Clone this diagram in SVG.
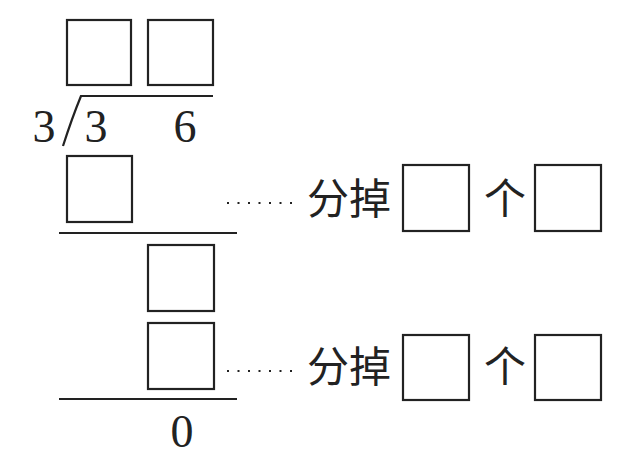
<svg xmlns="http://www.w3.org/2000/svg" width="640" height="475" viewBox="0 0 640 475">
<style>
.box{fill:none;stroke:#222;stroke-width:2.2}
.ln{fill:none;stroke:#222;stroke-width:2.2}
.dot{fill:none;stroke:#222;stroke-width:2;stroke-dasharray:2 8.5}
.num{font-family:"Liberation Serif","Times New Roman",serif;font-size:46px;fill:#222;text-anchor:middle}
.cjk{font-family:"Noto Sans CJK SC","Noto Sans CJK JP",sans-serif;font-size:42px;fill:#222}
</style>
<rect width="640" height="475" fill="#fff"/>
<g id="quotient">
<rect class="box" x="67" y="20" width="64" height="65"/>
<rect class="box" x="148" y="20" width="65" height="65"/>
</g>
<g id="bracket">
<path class="ln" d="M63,146 Q72,118 81,96 L213,96"/>
</g>
<g id="divisor"><text class="num" x="44" y="142">3</text></g>
<g id="dividend">
<text class="num" x="96" y="142">3</text>
<text class="num" x="185" y="142">6</text>
</g>
<g id="step1">
<rect class="box" x="67" y="156" width="65" height="66"/>
<line class="ln" x1="59" y1="233" x2="237" y2="233"/>
</g>
<g id="step2">
<rect class="box" x="148" y="245" width="66" height="66"/>
<rect class="box" x="148" y="323" width="66" height="66"/>
<line class="ln" x1="59" y1="399" x2="237" y2="399"/>
<text class="num" x="182" y="447">0</text>
</g>
<g id="connectors">
<line class="dot" x1="227" y1="203" x2="300" y2="203"/>
<line class="dot" x1="227" y1="371" x2="300" y2="371"/>
</g>
<g id="label1">
<text class="cjk" x="307" y="214">分掉</text>
<rect class="box" x="403" y="165" width="66" height="66"/>
<text class="cjk" x="484" y="214">个</text>
<rect class="box" x="535" y="165" width="66" height="66"/>
</g>
<g id="label2">
<text class="cjk" x="307" y="382">分掉</text>
<rect class="box" x="403" y="335" width="66" height="65"/>
<text class="cjk" x="484" y="382">个</text>
<rect class="box" x="535" y="335" width="66" height="65"/>
</g>
</svg>
